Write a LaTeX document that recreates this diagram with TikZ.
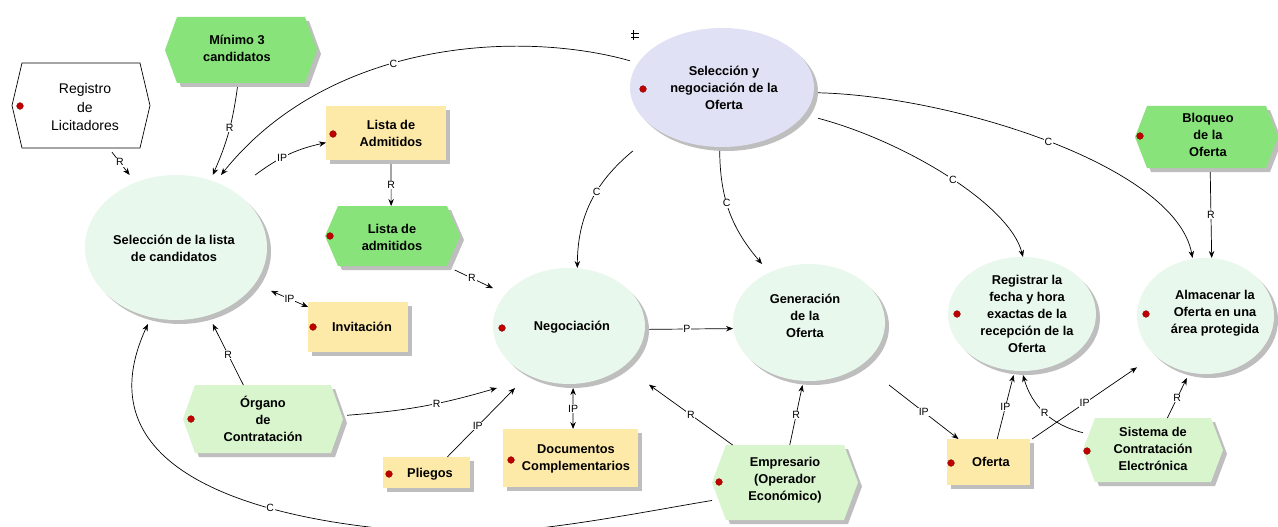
\documentclass[tikz,border=0pt]{standalone}
\usepackage{fontspec}
\setmainfont{Liberation Sans}
\usetikzlibrary{arrows.meta}
\definecolor{ellg}{RGB}{233,248,236}
\definecolor{lav}{RGB}{225,225,245}
\definecolor{greenB}{RGB}{136,228,122}
\definecolor{greenP}{RGB}{216,245,206}
\definecolor{yel}{RGB}{253,233,168}
\definecolor{shgray}{RGB}{190,190,190}
\definecolor{dotred}{RGB}{190,0,0}
\tikzset{
 shadowc/.style={fill=shgray},
 nosh/.style={fill=none},
 bb/.style={rectangle, draw=none, fill=none, inner sep=0pt, outer sep=0pt},
 bt/.style={align=center, inner sep=0pt, font=\fontsize{12.8}{17}\selectfont\bfseries},
 rt/.style={align=center, inner sep=0pt, font=\fontsize{14}{18.5}\selectfont},
 con/.style={draw=black, line width=.7pt, -{Stealth[length=7pt,width=5.5pt]}},
 con2/.style={draw=black, line width=.7pt, {Stealth[length=7pt,width=5.5pt]}-{Stealth[length=7pt,width=5.5pt]}},
 lbl/.style={fill=white, inner sep=0.8pt, font=\fontsize{10.5}{11}\selectfont},
}
% name cx cy a b fill
\newcommand{\mkell}[6]{%
 \fill[shadowc] ({#2+2},{#3+2}) ellipse [x radius={#4-2}, y radius={#5-2}];
 \fill[#6] ({#2-2},{#3-2}) ellipse [x radius={#4-2}, y radius={#5-2}];
 \node[bb, minimum width={2*#4}, minimum height={2*#5}] (#1) at (#2,#3) {};
}
% name cx cy a b inset fillstyle shadowstyle
\newcommand{\mkhex}[8]{%
 \fill[#8] ({#2-#4+4},{#3+2}) -- ({#2-#4+#6+4},{#3-#5+4}) -- ({#2+#4-#6},{#3-#5+4}) -- ({#2+#4},{#3+2}) -- ({#2+#4-#6},{#3+#5}) -- ({#2-#4+#6+4},{#3+#5}) -- cycle;
 \path[#7] ({#2-#4},{#3-2}) -- ({#2-#4+#6},{#3-#5}) -- ({#2+#4-4-#6},{#3-#5}) -- ({#2+#4-4},{#3-2}) -- ({#2+#4-4-#6},{#3+#5-4}) -- ({#2-#4+#6},{#3+#5-4}) -- cycle;
 \node[bb, minimum width={2*#4}, minimum height={2*#5}] (#1) at (#2,#3) {};
}
% name cx cy a b
\newcommand{\mkrect}[5]{%
 \fill[shadowc] ({#2-#4+4},{#3-#5+4}) rectangle ({#2+#4},{#3+#5});
 \fill[yel] ({#2-#4},{#3-#5}) rectangle ({#2+#4-4},{#3+#5-4});
 \node[bb, minimum width={2*#4}, minimum height={2*#5}] (#1) at (#2,#3) {};
}
\newcommand{\mkdot}[2]{\fill[dotred, draw=dotred!70!black, line width=.3pt] (#1,#2) circle [radius=3.4];}
\begin{document}
\begin{tikzpicture}[x=1pt,y=-1pt]
\useasboundingbox (0,0) rectangle (1278,527);
\fill[white] (0,0) rectangle (1278,527);
\clip (0,0) rectangle (1278,527);
% ellipses
\mkell{selL}{178}{249.5}{93}{74.5}{ellg}
\mkell{selN}{724}{89.5}{94}{61.5}{lav}
\mkell{negoc}{571}{328}{78}{60}{ellg}
\mkell{gen}{811}{324.5}{78}{60.5}{ellg}
\mkell{reg}{1024}{316}{76}{59}{ellg}
\mkell{alm}{1207.5}{318}{70.5}{60}{ellg}
% hexagons
\mkhex{reglic}{83}{107.5}{71}{44.5}{10}{fill=white,draw=black,line width=.7pt}{nosh}
\mkhex{min3}{243}{52}{78}{35}{12}{fill=greenB}{shadowc}
\mkhex{listad}{394.5}{238}{69.5}{32}{13}{fill=greenB}{shadowc}
\mkhex{bloq}{1208.5}{139}{73.5}{33}{12}{fill=greenB}{shadowc}
\mkhex{organo}{265}{421}{82}{36}{12}{fill=greenP}{shadowc}
\mkhex{empr}{787}{484.5}{75}{39.5}{14}{fill=greenP}{shadowc}
\mkhex{sist}{1155}{452}{72}{34}{12}{fill=greenP}{shadowc}
% rectangles
\mkrect{listaA}{388}{135}{62}{29}
\mkrect{inv}{360}{329}{52}{27}
\mkrect{pliegos}{428.5}{474.5}{45.5}{17.5}
\mkrect{docs}{572.5}{460}{69.5}{31}
\mkrect{oferta}{990.5}{464}{43.5}{25}
% red dots
\mkdot{20}{106}
\mkdot{333}{134}
\mkdot{330}{236}
\mkdot{643}{89}
\mkdot{313}{327}
\mkdot{502}{328}
\mkdot{191}{419}
\mkdot{389}{474}
\mkdot{511}{460}
\mkdot{719}{482}
\mkdot{957}{314}
\mkdot{1146}{314}
\mkdot{1140}{136}
\mkdot{951}{463}
\mkdot{1087}{451}
% small icon
\draw[line width=.6pt] (633,30) -- (633,40) (631,33) -- (639,33) (631,37) -- (639,37);
% texts
\node[rt] (reglic-t) at (85,107) {Registro\\de\\Licitadores};
\node[bt] (min3-t) at (237,48.5) {Mínimo 3\\candidatos};
\node[bt] (selN-t) at (724,88) {Selección y\\negociación de la\\Oferta};
\node[bt] (listaA-t) at (391,133.5) {Lista de\\Admitidos};
\node[bt] (listad-t) at (392,237.5) {Lista de\\admitidos};
\node[bt] (selL-t) at (174,248) {Selección de la lista\\de candidatos};
\node[bt] (inv-t) at (362,327) {Invitación};
\node[bt] (negoc-t) at (572,327) {Negociación};
\node[bt] (gen-t) at (805,316) {Generación\\de la\\Oferta};
\node[bt] (reg-t) at (1027,313.5) {Registrar la\\fecha y hora\\exactas de la\\recepción de la\\Oferta};
\node[bt] (alm-t) at (1215,313.5) {Almacenar la\\Oferta en una\\área protegida};
\node[bt] (bloq-t) at (1208,135) {Bloqueo\\de la\\Oferta};
\node[bt] (organo-t) at (263,419) {Órgano\\de\\Contratación};
\node[bt] (pliegos-t) at (430,474) {Pliegos};
\node[bt] (docs-t) at (576,458.5) {Documentos\\Complementarios};
\node[bt] (empr-t) at (785,480.5) {Empresario\\(Operador\\Económico)};
\node[bt] (oferta-t) at (991,462) {Oferta};
\node[bt] (sist-t) at (1153,449) {Sistema de\\Contratación\\Electrónica};
% connectors
\draw[con] (reglic.-57) -- node[lbl,pos=.45]{R} (selL.123);
\draw[con] (min3.-99) to[bend left=8] node[lbl,pos=.45]{R} (selL.65);
\draw[con] (selN.163) .. controls +(-110,-31) and +(108,-135) .. (selL.60) node[lbl,pos=.57]{C};
\draw[con] (selL.44) to[bend left=12] node[lbl,pos=.4]{IP} (listaA.187);
\draw[con] (listaA.-84) -- node[lbl]{R} (listad.96);
\draw[con] (listad.-28) -- node[lbl,pos=.45]{R} (negoc.153);
\draw[con] (selN.214) to[bend right=25] node[lbl,pos=.4]{C} (negoc.84);
\draw[con] (selN.-94) to[bend right=20] node[lbl,pos=.42]{C} (gen.129);
\draw[con] (selN.-17) .. controls +(87,23) and +(-13,-52) .. (reg.91) node[lbl,pos=.52]{C};
\draw[con] (selN.-2) .. controls +(132,3) and +(-17,-93) .. (alm.104) node[lbl,pos=.5]{C};
\draw[con] (bloq.-87) -- node[lbl]{R} (alm.86);
\draw[con2] (selL.-24) -- node[lbl]{IP} (inv.157);
\draw[con] (organo.121) -- node[lbl]{R} (selL.-65);
\draw[con] (empr.192) .. controls +(-72,12) and (540,533) .. (465,533) .. controls (390,533) and +(-88,191) .. (selL.-112) node[lbl,pos=.45]{C};
\draw[con] (organo.4) to[bend right=6] node[lbl,pos=.6]{R} (negoc.219);
\draw[con] (pliegos.43) -- node[lbl,pos=.45]{IP} (negoc.227);
\draw[con2] (negoc.-88) -- node[lbl]{IP} (docs.89);
\draw[con] (negoc.-1) -- node[lbl,pos=.45]{P} (gen.183);
\draw[con] (empr.144) -- node[lbl]{R} (negoc.-36);
\draw[con] (empr.86) -- node[lbl]{R} (gen.-98);
\draw[con] (gen.south east) -- node[lbl]{IP} (oferta.142);
\draw[con] (oferta.75) -- node[lbl]{IP} (reg.-100);
\draw[con] (sist.165) to[bend left=30] node[lbl]{R} (reg.-91);
\draw[con] (oferta.31) -- node[lbl]{IP} (alm.215);
\draw[con] (sist.70) -- node[lbl]{R} (alm.-109);
\end{tikzpicture}
\end{document}
